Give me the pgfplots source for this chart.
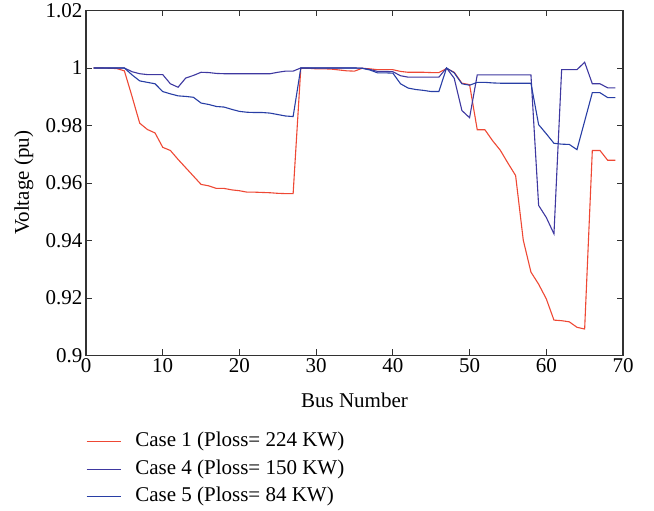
\documentclass[border=0pt]{standalone}
\usepackage{fontspec}
\setmainfont{Liberation Serif}
\usepackage{pgfplots}
\pgfplotsset{compat=1.18}
\definecolor{caseone}{RGB}{238,72,52}
\definecolor{casefour}{RGB}{62,56,160}
\definecolor{casefive}{RGB}{40,62,165}
\definecolor{axgray}{RGB}{50,50,50}
\newcommand\chartfont{\rmfamily\fontsize{21}{25}\selectfont}
\begin{document}
\begin{tikzpicture}
\begin{axis}[
  scale only axis,
  width=537pt, height=345pt,
  xmin=0, xmax=70, ymin=0.9, ymax=1.02,
  xtick={0,10,20,30,40,50,60,70},
  ytick={0.9,0.92,0.94,0.96,0.98,1,1.02},
  yticklabel style={/pgf/number format/fixed,/pgf/number format/precision=2},
  /pgf/number format/assume math mode=true,
  tick label style={font=\chartfont},
  label style={font=\chartfont},
  xlabel={Bus Number}, ylabel={Voltage (pu)},
  xlabel style={at={(axis description cs:0.5,-0.13)}, anchor=center},
  ylabel style={at={(axis description cs:-0.1155,0.5)}, anchor=center},
  axis line style={axgray, line width=1.1pt},
  major tick style={axgray, line width=0.9pt},
  major tick length=6pt,
  tick align=inside,
  legend style={at={(axis description cs:0,-0.2094)}, anchor=north west, draw=none, fill=none,
    font=\chartfont, inner sep=0pt, row sep=0pt, column sep=14pt,
    nodes={inner xsep=0pt, inner ysep=3pt, text height=16pt, text depth=5.5pt}},
  legend cell align=left,
  legend image code/.code={\draw[#1] (0pt,0pt) -- (34pt,0pt);},
  every axis plot/.append style={line width=1.1pt},
]
\addplot[caseone] coordinates {
(1,1.0000)(2,1.0000)(3,0.9999)(4,0.9998)(5,0.9990)(6,0.9901)(7,0.9808)(8,0.9786)(9,0.9774)(10,0.9724)
(11,0.9713)(12,0.9682)(13,0.9653)(14,0.9624)(15,0.9595)(16,0.9590)(17,0.9581)(18,0.9581)(19,0.9576)(20,0.9573)
(21,0.9568)(22,0.9568)(23,0.9567)(24,0.9566)(25,0.9564)(26,0.9563)(27,0.9563)(28,0.9999)(29,0.9999)(30,0.9997)
(31,0.9997)(32,0.9996)(33,0.9993)(34,0.9990)(35,0.9989)(36,0.9999)(37,0.9997)(38,0.9994)(39,0.9994)(40,0.9994)
(41,0.9988)(42,0.9985)(43,0.9985)(44,0.9985)(45,0.9984)(46,0.9984)(47,0.9998)(48,0.9985)(49,0.9947)(50,0.9942)
(51,0.9785)(52,0.9785)(53,0.9747)(54,0.9714)(55,0.9669)(56,0.9626)(57,0.9401)(58,0.9290)(59,0.9248)(60,0.9197)
(61,0.9123)(62,0.9121)(63,0.9117)(64,0.9098)(65,0.9092)(66,0.9713)(67,0.9713)(68,0.9679)(69,0.9679)
};
\addlegendentry{Case 1 (Ploss= 224 KW)}
\addplot[casefour] coordinates {
(1,1.0000)(2,1.0000)(3,1.0000)(4,1.0000)(5,1.0000)(6,0.9987)(7,0.9980)(8,0.9977)(9,0.9977)(10,0.9977)
(11,0.9945)(12,0.9933)(13,0.9965)(14,0.9974)(15,0.9985)(16,0.9984)(17,0.9981)(18,0.9980)(19,0.9980)(20,0.9980)
(21,0.9980)(22,0.9980)(23,0.9980)(24,0.9980)(25,0.9985)(26,0.9989)(27,0.9989)(28,1.0000)(29,1.0000)(30,1.0000)
(31,1.0000)(32,1.0000)(33,1.0000)(34,1.0000)(35,1.0000)(36,0.9999)(37,0.9995)(38,0.9988)(39,0.9988)(40,0.9987)
(41,0.9973)(42,0.9968)(43,0.9968)(44,0.9968)(45,0.9968)(46,0.9968)(47,1.0000)(48,0.9964)(49,0.9852)(50,0.9827)
(51,0.9976)(52,0.9976)(53,0.9976)(54,0.9976)(55,0.9976)(56,0.9976)(57,0.9976)(58,0.9976)(59,0.9522)(60,0.9480)
(61,0.9423)(62,0.9994)(63,0.9994)(64,0.9994)(65,1.0020)(66,0.9945)(67,0.9945)(68,0.9931)(69,0.9931)
};
\addlegendentry{Case 4 (Ploss= 150 KW)}
\addplot[casefive] coordinates {
(1,1.0000)(2,1.0000)(3,1.0000)(4,1.0000)(5,1.0000)(6,0.9976)(7,0.9955)(8,0.9950)(9,0.9945)(10,0.9918)
(11,0.9910)(12,0.9903)(13,0.9901)(14,0.9898)(15,0.9878)(16,0.9873)(17,0.9866)(18,0.9864)(19,0.9856)(20,0.9849)
(21,0.9846)(22,0.9845)(23,0.9845)(24,0.9843)(25,0.9838)(26,0.9833)(27,0.9831)(28,1.0000)(29,1.0000)(30,1.0000)
(31,1.0000)(32,1.0000)(33,1.0000)(34,1.0000)(35,1.0000)(36,0.9999)(37,0.9993)(38,0.9983)(39,0.9983)(40,0.9982)
(41,0.9945)(42,0.9930)(43,0.9925)(44,0.9922)(45,0.9918)(46,0.9918)(47,1.0000)(48,0.9983)(49,0.9945)(50,0.9940)
(51,0.9950)(52,0.9950)(53,0.9948)(54,0.9947)(55,0.9947)(56,0.9947)(57,0.9947)(58,0.9947)(59,0.9803)(60,0.9771)
(61,0.9738)(62,0.9735)(63,0.9734)(64,0.9716)(65,0.9815)(66,0.9914)(67,0.9914)(68,0.9897)(69,0.9897)
};
\addlegendentry{Case 5 (Ploss= 84 KW)}
\end{axis}
\path ([shift={(-86pt,-155pt)}]current axis.south west) rectangle ([shift={(31pt,10pt)}]current axis.north east);
\end{tikzpicture}
\end{document}
